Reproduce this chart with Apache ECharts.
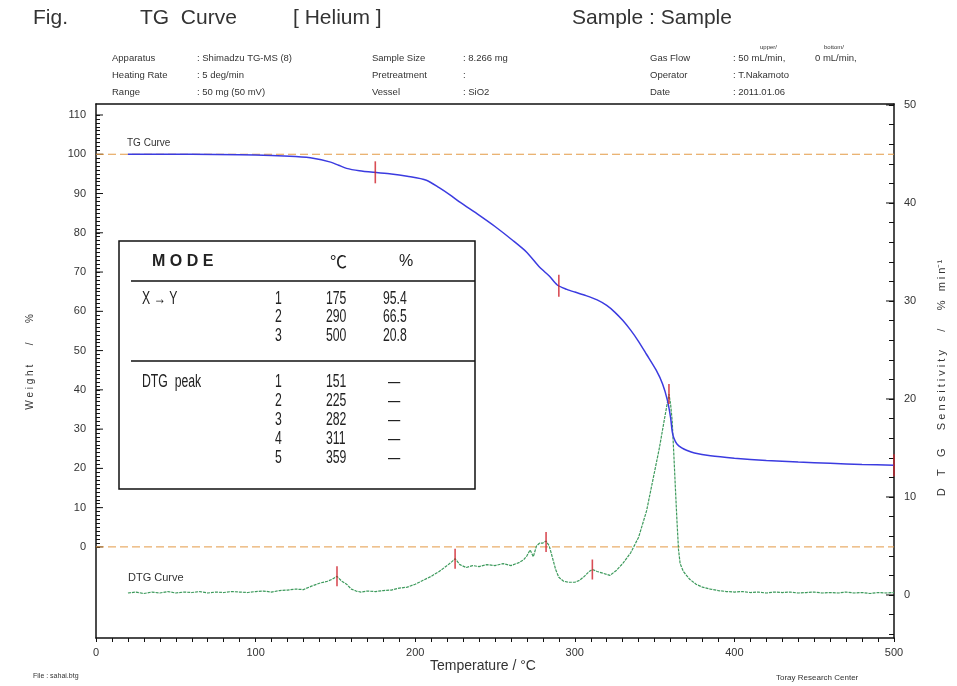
<!DOCTYPE html>
<html>
<head>
<meta charset="utf-8">
<script src="https://cdn.jsdelivr.net/npm/echarts@6/dist/echarts.min.js"></script>
<style>
html,body{margin:0;padding:0;background:#fff;}
#chart{width:957px;height:686px;}
</style>
</head>
<body>
<div id="chart"></div>
<script>
// ---------- data ----------
const tgTemp = [20,60,90,110,125,136,147,152,157,165,174,185,195,207,215,222,228,240,250,261,270,278,284,289,295,300,307,314,320,325,330,335,340,345,351,355,358,360,361,362,364,367,370,375,385,400,420,440,460,480,500];
const tgWeight = [100,100,99.9,99.7,99.4,99.0,98.0,97.2,96.4,95.8,95.4,95.0,94.4,93.4,91.5,89.6,87.8,84.5,81.6,78.1,75.0,71.2,69.0,66.7,65.6,64.9,64.0,62.9,61.5,59.8,57.7,55.2,52.3,49.0,45.0,41.5,37.4,33.0,29.5,27.8,26.2,25.2,24.6,23.9,23.2,22.6,22.0,21.6,21.3,21.0,20.8];

const dtgTemp = [20,25,30,35,40,45,50,55,60,65,70,75,80,85,90,95,100,105,110,115,120,125,130,135,140,145,148,151,154,157,160,163,166,170,175,180,185,190,195,200,205,210,215,220,223,225,228,232,236,240,245,250,255,260,265,268,270,272,274,276,278,280,282,284,286,288,290,293,296,300,303,306,309,311,314,318,322,326,330,335,340,345,350,353,356,358,359,360,361,362,363,364,365,366,368,372,376,380,385,390,395,400,405,410,415,420,425,430,435,440,445,450,455,460,465,470,475,480,485,490,495,500];
const dtgValue = [0.2,0.3,0.15,0.3,0.2,0.35,0.2,0.3,0.25,0.35,0.2,0.3,0.25,0.35,0.3,0.25,0.35,0.4,0.3,0.45,0.5,0.6,0.55,0.9,1.2,1.4,1.6,1.9,1.4,1.1,0.6,0.4,0.3,0.4,0.35,0.45,0.5,0.7,0.8,1.1,1.5,1.9,2.4,3.0,3.4,3.7,3.1,2.8,3.0,2.9,3.1,3.0,3.2,3.0,3.3,3.6,4.0,4.6,3.9,5.0,5.3,5.3,5.5,5.0,3.8,2.6,1.8,1.4,1.3,1.3,1.5,1.9,2.4,2.6,2.4,2.2,2.0,2.5,3.2,4.3,5.9,8.6,12.6,15.0,17.8,19.6,20.5,19.5,17.8,14.5,11.0,7.6,4.6,3.2,2.4,1.6,1.1,0.8,0.6,0.45,0.35,0.3,0.35,0.25,0.3,0.2,0.3,0.25,0.3,0.2,0.25,0.3,0.2,0.25,0.2,0.3,0.2,0.25,0.15,0.25,0.2,0.25];

const tgMarks = [[175,95.4],[290,66.5],[500,20.8]];
const dtgMarks = [[151,1.9],[225,3.7],[282,5.4],[311,2.6],[359,20.5]];

const xTickLabels = [0,100,200,300,400,500];
const leftTickLabels = [0,10,20,30,40,50,60,70,80,90,100,110];
const rightTickLabels = [0,10,20,30,40,50];
const refLines = [100,0];

const tableXY = [['1','175','95.4'],['2','290','66.5'],['3','500','20.8']];
const tablePeaks = [['1','151','—'],['2','225','—'],['3','282','—'],['4','311','—'],['5','359','—']];

// ---------- build ----------
const pair = (xs, ys) => xs.map((x, i) => [x, ys[i]]);
const range = (a, b, s) => { const r = []; for (let v = a; v <= b + 1e-9; v += s) r.push(+v.toFixed(3)); return r; };

const LMIN = -23.2, LMAX = 112.8, RMIN = -4.39, RMAX = 50.1;
const txt = '#333';
const hdrFont = '9.5px "Liberation Sans", Arial, sans-serif';

const graphics = [];
function T(x, y, s, font, fill) {
  graphics.push({type:'text', x:x, y:y, silent:true, z:20,
    style:{text:s, x:0, y:0, font:font, fill: fill || txt, align:'left', verticalAlign:'middle'}});
}
// title
const tFont = '21px "Liberation Sans", Arial, sans-serif';
T(33, 18, 'Fig.', tFont);
T(140, 18, 'TG  Curve', tFont);
T(293, 18, '[ Helium ]', tFont);
T(572, 18, 'Sample : Sample', tFont);
// header info
const hx = [112, 197, 372, 463, 650, 733];
const hrows = [
  ['Apparatus', ': Shimadzu TG-MS (8)', 'Sample Size', ': 8.266 mg', 'Gas Flow', ': 50 mL/min,'],
  ['Heating Rate', ': 5 deg/min', 'Pretreatment', ':', 'Operator', ': T.Nakamoto'],
  ['Range', ': 50 mg (50 mV)', 'Vessel', ': SiO2', 'Date', ': 2011.01.06']
];
const hy = [58, 75, 92];
hrows.forEach((r, i) => r.forEach((s, j) => T(hx[j], hy[i], s, hdrFont)));
T(815, 58, '0 mL/min,', hdrFont);
T(760, 47, 'upper/', '6px "Liberation Sans", Arial, sans-serif');
T(824, 47, 'bottom/', '6px "Liberation Sans", Arial, sans-serif');

// curve labels
T(127, 143, 'TG Curve', '10px "Liberation Sans", Arial, sans-serif');
T(128, 578, 'DTG Curve', '11px "Liberation Sans", Arial, sans-serif');

// axis names
graphics.push({type:'text', x:30, y:362, rotation:Math.PI/2, silent:true, z:20,
  style:{text:'W e i g h t       /       %', x:0, y:0, font:'10px "Liberation Sans", Arial, sans-serif', fill:txt, align:'center', verticalAlign:'middle'}});
graphics.push({type:'text', x:942, y:378, rotation:Math.PI/2, silent:true, z:20,
  style:{text:'D    T    G      S e n s i t i v i t y      /      %   m i n⁻¹', x:0, y:0, font:'11px "Liberation Sans", Arial, sans-serif', fill:txt, align:'center', verticalAlign:'middle'}});
T(430, 666, 'Temperature / °C', '14px "Liberation Sans", Arial, sans-serif');
T(33, 676, 'File : sahai.btg', '7px "Liberation Sans", Arial, sans-serif');
T(776, 678, 'Toray Research Center', '8px "Liberation Sans", Arial, sans-serif');

// table
graphics.push({type:'rect', shape:{x:119, y:241, width:356, height:248}, silent:true, z:10,
  style:{fill:'#fff', stroke:'#111', lineWidth:1.5}});
graphics.push({type:'line', shape:{x1:131, y1:281, x2:475, y2:281}, silent:true, z:11, style:{stroke:'#111', lineWidth:1.5}});
graphics.push({type:'line', shape:{x1:131, y1:361, x2:475, y2:361}, silent:true, z:11, style:{stroke:'#111', lineWidth:1.5}});
T(152, 262, 'M O D E', 'bold 16px "Liberation Sans", Arial, sans-serif', '#222');
T(330, 262, '℃', '17px "Noto Sans CJK JP", sans-serif', '#222');
T(399, 262, '%', '16px "Liberation Sans", Arial, sans-serif', '#222');
const cFont = '18px "Liberation Sans", Arial, sans-serif';
function C(x, y, s) {
  graphics.push({type:'text', x:x, y:y, scaleX:0.68, silent:true, z:20,
    style:{text:s, x:0, y:0, font:cFont, fill:'#222', align:'left', verticalAlign:'middle'}});
}
C(142, 299, 'X → Y');
C(142, 382, 'DTG  peak');
const colX = [275, 326, 383];
tableXY.forEach((r, i) => r.forEach((s, j) => C(colX[j], 299 + i * 18.5, s)));
tablePeaks.forEach((r, i) => r.forEach((s, j) => C(j === 2 ? 388 : colX[j], 382 + i * 19, s)));

const chart = echarts.init(document.getElementById('chart'), null, {renderer:'canvas'});
const axisLabelStyle = {color:txt, fontSize:11, fontFamily:'"Liberation Sans", Arial, sans-serif'};

function majorTicks(xVal, dir, len) {
  return function (params, api) {
    const p = api.coord([xVal, api.value(1)]);
    return {type:'line', shape:{x1:p[0], y1:p[1], x2:p[0] + dir * len, y2:p[1]},
      style:{stroke:'#111', lineWidth:1}};
  };
}

const refSeries = refLines.map(v => ({
  type:'line', name:'ref ' + v, xAxisIndex:0, yAxisIndex:0, data:[[0, v], [500, v]],
  showSymbol:false, silent:true, z:2,
  lineStyle:{color:'#e39a45', type:[8,4], width:1}
}));

chart.setOption({
  animation:false,
  backgroundColor:'#fff',
  grid:{left:96, right:63, top:104, bottom:48},
  xAxis:[{
    type:'value', min:0, max:500, interval:100,
    axisLine:{show:true, onZero:false, lineStyle:{color:'#111', width:1.5}},
    axisTick:{show:true, length:4, lineStyle:{color:'#111'}},
    minorTick:{show:true, splitNumber:10, length:4, lineStyle:{color:'#111'}},
    axisLabel:Object.assign({margin:9, customValues:xTickLabels}, axisLabelStyle),
    splitLine:{show:false}
  },{
    type:'value', position:'top', min:0, max:500,
    axisLine:{show:true, onZero:false, lineStyle:{color:'#111', width:1.5}},
    axisTick:{show:false}, axisLabel:{show:false}, splitLine:{show:false}
  }],
  yAxis:[{
    type:'value', position:'left', min:LMIN, max:LMAX,
    axisLine:{show:true, onZero:false, lineStyle:{color:'#111', width:1.5}},
    axisTick:{show:true, inside:true, length:4, customValues:range(0,110,1), lineStyle:{color:'#111'}},
    axisLabel:Object.assign({margin:10, customValues:leftTickLabels}, axisLabelStyle),
    splitLine:{show:false}
  },{
    type:'value', position:'right', min:RMIN, max:RMAX,
    axisLine:{show:true, onZero:false, lineStyle:{color:'#111', width:1.5}},
    axisTick:{show:true, inside:true, length:5, customValues:range(-4,50,2), lineStyle:{color:'#111'}},
    axisLabel:Object.assign({margin:10, customValues:rightTickLabels}, axisLabelStyle),
    splitLine:{show:false}
  }],
  graphic:graphics,
  series:refSeries.concat([{
    type:'line', name:'TG', xAxisIndex:0, yAxisIndex:0, data:pair(tgTemp, tgWeight),
    showSymbol:false, smooth:0.25, z:4,
    lineStyle:{color:'#3b3be0', width:1.5}
  },{
    type:'line', name:'DTG', xAxisIndex:0, yAxisIndex:1, data:pair(dtgTemp, dtgValue),
    showSymbol:false, z:3,
    lineStyle:{color:'#3d9a5c', width:1.2, type:[3,1]}
  },{
    type:'scatter', name:'TG marks', xAxisIndex:0, yAxisIndex:0, data:tgMarks,
    symbol:'rect', symbolSize:[1.6, 22], clip:false, z:6,
    itemStyle:{color:'#d0202a'}
  },{
    type:'scatter', name:'DTG marks', xAxisIndex:0, yAxisIndex:1, data:dtgMarks,
    symbol:'rect', symbolSize:[1.6, 20], clip:false, z:6,
    itemStyle:{color:'#d0202a'}
  },{
    type:'custom', name:'left major ticks', xAxisIndex:0, yAxisIndex:0, clip:false, silent:true,
    data:leftTickLabels.map(v => [0, v]), renderItem:majorTicks(0, 1, 7)
  },{
    type:'custom', name:'right major ticks', xAxisIndex:0, yAxisIndex:1, clip:false, silent:true,
    data:rightTickLabels.map(v => [500, v]), renderItem:majorTicks(500, -1, 8)
  }])
});
</script>
</body>
</html>
